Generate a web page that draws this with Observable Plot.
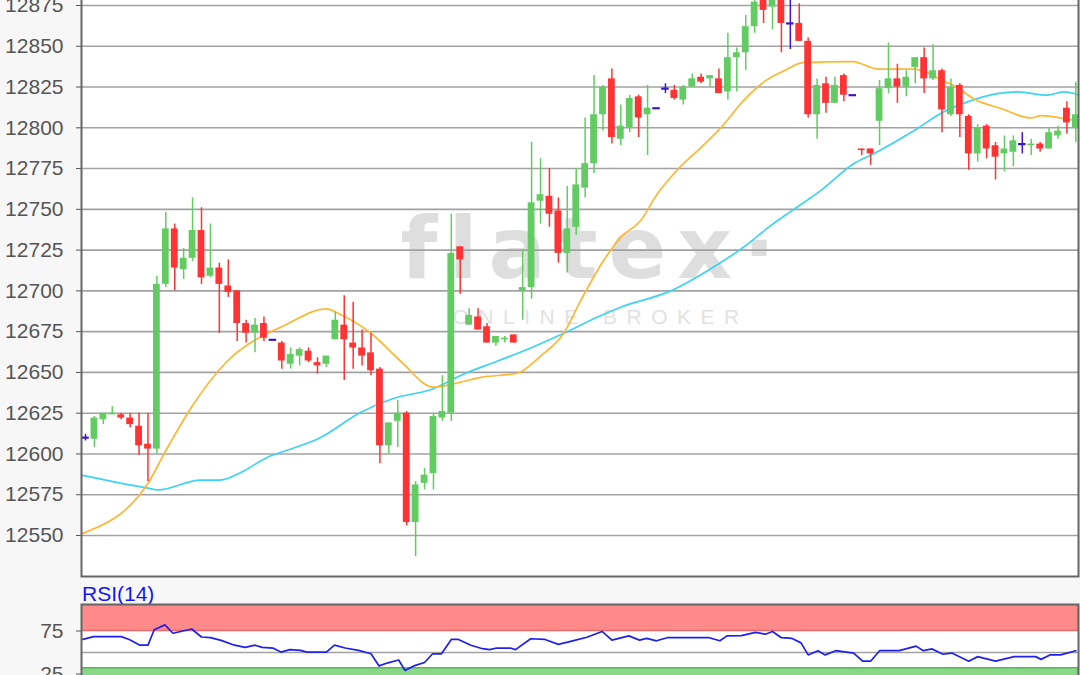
<!DOCTYPE html>
<html><head><meta charset="utf-8">
<script src="https://cdn.jsdelivr.net/npm/d3@7"></script>
<script src="https://cdn.jsdelivr.net/npm/@observablehq/plot@0.6"></script>
<style>
html,body{margin:0;padding:0;background:#f7f7f7;width:1080px;height:675px;overflow:hidden;font-family:"Liberation Sans",Arial,sans-serif;}
#main{position:absolute;left:0;top:-3px;}
#rsi{position:absolute;left:0;top:603px;}
#rsiLabel{position:absolute;left:82px;top:583px;font-size:21px;line-height:21px;color:#1414ff;}
</style></head><body>
<div id="main"></div>
<div id="rsiLabel">RSI(14)</div>
<div id="rsi"></div>
<script>
// ---- data ----
const openV  = [12610,12609,12621,12624,12624,12622,12617,12606,12603,12704,12738,12713,12720,12737,12709,12714,12703,12700,12680,12674,12680,12670,12668,12655,12660,12663,12656,12655,12670,12679,12668,12665,12662,12652,12605,12620,12625,12558,12582,12588,12622,12625,12727,12679,12684,12678,12668,12670,12673,12700,12702,12755,12758,12749,12723,12739,12763,12778,12808,12830,12793,12800,12819,12808,12812,12824,12823,12817,12825,12831,12830,12830,12822,12843,12846,12862,12880,12874,12880,12864,12864,12853,12808,12827,12815,12832,12820,12787,12787,12804,12824,12830,12825,12837,12843,12830,12835,12808,12826,12807,12784,12801,12789,12784,12785,12790,12789,12790,12787,12795,12812,12800];
const highV  = [12612,12623,12625,12629,12625,12625,12625,12625,12709,12748,12741,12726,12757,12751,12741,12717,12719,12700,12682,12683,12684,12670,12669,12665,12665,12665,12659,12660,12687,12697,12693,12676,12674,12653,12619,12633,12626,12583,12591,12625,12648,12747,12727,12689,12689,12680,12672,12672,12673,12725,12791,12781,12775,12757,12764,12775,12806,12832,12826,12836,12814,12820,12820,12826,12812,12827,12826,12826,12833,12833,12832,12836,12858,12849,12869,12882,12882,12882,12882,12882,12876,12855,12830,12831,12831,12833,12820,12787,12787,12829,12852,12839,12835,12843,12849,12851,12836,12830,12827,12808,12802,12802,12791,12795,12795,12797,12793,12791,12800,12801,12816,12828];
const lowV   = [12608,12604,12618,12624,12621,12616,12599,12583,12600,12702,12700,12707,12718,12704,12708,12674,12696,12669,12668,12662,12669,12670,12652,12652,12654,12656,12649,12653,12670,12645,12652,12654,12648,12594,12600,12604,12556,12537,12578,12578,12620,12620,12698,12679,12676,12668,12666,12668,12668,12682,12695,12741,12739,12717,12711,12734,12757,12772,12798,12790,12789,12797,12794,12783,12812,12821,12817,12814,12825,12827,12825,12821,12817,12822,12835,12858,12864,12860,12846,12848,12853,12806,12793,12809,12815,12816,12820,12783,12777,12789,12821,12815,12819,12827,12821,12829,12797,12807,12794,12774,12779,12781,12768,12773,12776,12784,12783,12785,12787,12793,12796,12791];
const closeV = [12610,12622,12625,12625,12622,12618,12605,12603,12704,12738,12714,12720,12737,12708,12714,12704,12699,12680,12674,12679,12671,12670,12657,12661,12664,12657,12654,12660,12682,12670,12665,12660,12651,12605,12619,12625,12558,12581,12587,12623,12626,12723,12719,12685,12676,12668,12672,12671,12668,12702,12754,12759,12747,12723,12738,12765,12778,12808,12825,12794,12801,12818,12806,12812,12812,12824,12818,12825,12830,12828,12832,12821,12843,12846,12862,12877,12872,12880,12864,12864,12853,12808,12826,12815,12826,12820,12820,12786,12784,12824,12830,12825,12831,12843,12830,12835,12811,12825,12808,12784,12800,12787,12782,12787,12792,12790,12790,12787,12797,12798,12803,12808];

// fast moving average (orange), read at positions along the candle index
const fastX = [-0.45,7,8.7,11.8,15.9,20.4,22,27,28.4,32,35.3,39,42,44.3,48.4,51,53.6,55.5,58,60,62.2,64.1,66.3,69,71.2,73.8,76,78.3,80.4,86,88.8,92.8,94.7,96,97.3,99.8,102.5,106,107.1,109.7,111.3];
const fastV = [12551,12582,12599,12628,12657,12674,12678,12689,12686,12674,12657,12641,12644,12647,12649.5,12660,12674,12694,12718,12733,12743,12759.5,12774,12788,12800,12817,12828,12835,12840,12840.6,12836,12836,12833,12829,12826,12817,12812,12806,12807.5,12805.7,12804];
// slow moving average (cyan)
const slowX = [-0.45,7,8.1,12.9,15.1,17.4,20.4,23,26.3,30.8,34.5,39,42.4,46.2,49.9,53.6,57.4,60,65.6,70.8,73.8,76.8,79.4,82.4,86.1,88.3,92.8,95.9,98.4,102.2,104.5,107.8,109.6,110.8,111.3];
const slowV = [12587,12579,12578,12584,12584,12588.6,12598,12603,12610,12625.4,12634,12640,12649,12657,12665,12674,12684,12690,12700,12716,12727,12740,12750,12761.5,12778,12784,12798,12809,12815,12821,12822,12820,12822,12821,12820];
// RSI(14)
const rsiX = [-0.3,0.9,4.0,4.9,6.1,7.0,7.7,8.9,9.8,11.9,13.0,14.0,15.2,16.7,17.9,19.0,19.8,21.0,21.9,22.9,24.1,24.8,27.0,27.9,29.1,30.6,32.0,32.9,33.9,35.1,35.8,36.8,38.0,38.9,39.9,41.0,41.8,43.2,44.5,45.3,46.1,47.6,48.2,49.9,51.5,53.0,54.6,56.2,57.9,59.0,60.9,62.1,62.9,64.0,65.2,69.9,71.1,71.9,73.5,75.1,76.2,77.0,78.0,79.2,80.2,81.0,82.1,82.9,84.1,86.1,87.1,88.0,89.0,91.2,93.1,93.9,94.9,96.1,97.1,99.0,100.0,102.0,104.1,106.5,107.1,108.1,109.3,111.0];
const rsiV = [65.2,68.5,68.5,65.2,58.5,58.5,76.5,82.1,72.4,77.3,68,67.3,64.1,58.5,56,58.5,56,55.2,50.5,53.3,52.4,50.5,50.5,58.5,55.2,52.4,48.5,34.4,38,41.3,29.2,34.4,38.4,48.5,48.5,65.2,65.2,58.5,54.4,53.3,55.2,55.2,53.3,66,65.2,59.5,63.6,67.7,74.5,64.4,69.3,64.4,66.4,63.6,67.2,67.2,63.6,69.3,69.7,73.4,71.3,74.5,67.2,66.4,61.2,47.2,52.1,47.2,52.1,49.3,39.9,39.9,52.1,52.1,57.4,52.1,54.2,48,49.3,39.9,45.2,39.9,45.2,45.2,42,47.2,47.2,52.1];

const yTicks = [12550,12575,12600,12625,12650,12675,12700,12725,12750,12775,12800,12825,12850,12875];
const rsiTicks = [25, 75];
const rsiMid = [50];
const rsiBands = [{lo: 75, hi: 105.2, fill: "#ff8a8a", stroke: "#e86a6a"}, {lo: -5, hi: 31.7, fill: "#88d888", stroke: "#5cb45c"}];

// ---- styling ----
const UP = "#62cc62", DOWN = "#ff3333", DOJI = "#3c14d2";
const FAST = "#ffb733", SLOW = "#3dd3f5", RSIC = "#2020ee";
const FONT = "'Liberation Sans', Arial, sans-serif";
const XDOM = [-0.45, 111.3];

const candles = openV.map((o, i) => ({i, o, h: highV[i], l: lowV[i], c: closeV[i]}));
const col = d => d.c > d.o ? UP : d.c < d.o ? DOWN : DOJI;
const fast = fastX.map((x, k) => ({x, v: fastV[k]}));
const slow = slowX.map((x, k) => ({x, v: slowV[k]}));
const rsiData = rsiX.map((x, k) => ({x, v: rsiV[k]}));

const WM1 = "flatex\u00b7", WM2 = "ONLINE BROKER";

const main = Plot.plot({
  width: 1080, height: 581,
  marginLeft: 81, marginRight: 2, marginTop: 1, marginBottom: 2,
  style: {background: "transparent", fontFamily: FONT, fontSize: "21px", color: "#555"},
  x: {domain: XDOM, axis: null},
  y: {domain: [12524.86, 12879.29], ticks: yTicks, tickFormat: d => String(d), tickSize: 5, tickPadding: 13, label: null},
  marks: [
    Plot.frame({fill: "white"}),
    Plot.text([WM1], {frameAnchor: "top-left", dx: 319, dy: 279, text: d => d, textAnchor: "start", lineAnchor: "bottom",
      fontFamily: "DejaVu Sans", fontWeight: "bold", fontSize: 85, fill: "#dedede"}),
    Plot.text([WM2], {frameAnchor: "top-left", dx: 371, dy: 325, text: d => d, textAnchor: "start", lineAnchor: "bottom",
      fontFamily: FONT, fontSize: 21, fill: "#e2e2e2"}),
    Plot.ruleY(yTicks, {stroke: "#a2a2a2", strokeWidth: 1.6}),
    Plot.line(slow, {x: "x", y: "v", stroke: SLOW, strokeWidth: 1.7, curve: "monotone-x"}),
    Plot.line(fast, {x: "x", y: "v", stroke: FAST, strokeWidth: 1.7, curve: "monotone-x"}),
    Plot.ruleX(candles, {x: "i", y1: "l", y2: "h", stroke: col, strokeWidth: 1.5, clip: true}),
    Plot.rect(candles.filter(d => d.o !== d.c), {x1: d => d.i - 0.38, x2: d => d.i + 0.38, y1: "o", y2: "c", fill: col, clip: true}),
    Plot.ruleY(candles.filter(d => d.o === d.c), {y: "o", x1: d => d.i - 0.42, x2: d => d.i + 0.42, stroke: DOJI, strokeWidth: 2.2, clip: true}),
    Plot.frame({stroke: "#666", strokeWidth: 2})
  ]
});
d3.select(main).selectAll("text").filter(function(){ return this.textContent === WM1; }).attr("letter-spacing", 11);
d3.select(main).selectAll("text").filter(function(){ return this.textContent === WM2; }).attr("letter-spacing", 9.5);
document.getElementById("main").appendChild(main);

const rsi = Plot.plot({
  width: 1080, height: 95,
  marginLeft: 81, marginRight: 2, marginTop: 1, marginBottom: 0,
  style: {background: "transparent", fontFamily: FONT, fontSize: "21px", color: "#555"},
  x: {domain: XDOM, axis: null},
  y: {domain: [0, 106], range: [92, 0.84], ticks: rsiTicks, tickFormat: d => String(d), tickSize: 5, tickPadding: 13, label: null},
  marks: [
    Plot.frame({fill: "white"}),
    Plot.rect(rsiBands, {y1: "lo", y2: "hi", fill: d => d.fill, stroke: d => d.stroke, strokeWidth: 1.5, clip: true}),
    Plot.ruleY(rsiMid, {stroke: "#a2a2a2", strokeWidth: 1.6}),
    Plot.line(rsiData, {x: "x", y: "v", stroke: RSIC, strokeWidth: 1.7}),
    Plot.frame({stroke: "#666", strokeWidth: 2})
  ]
});
document.getElementById("rsi").appendChild(rsi);
</script></body></html>
